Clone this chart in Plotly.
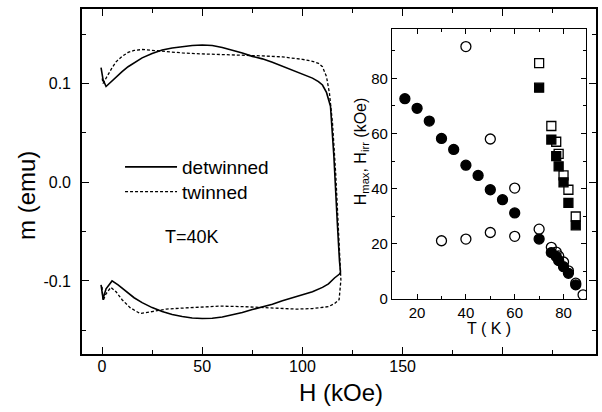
import plotly.graph_objects as go

# ---------------- main panel data (H in kOe, m in emu) ----------------
det_low_H = [-0.5, 0.5, 2, 5, 8, 12, 16, 20, 25, 30, 35, 40, 45, 50, 55, 60, 65, 70,
             75, 80, 85, 90, 95, 100, 105, 110, 113, 116, 118.5, 119]
det_low_m = [-0.104, -0.118, -0.108, -0.100, -0.104, -0.111, -0.117, -0.122, -0.127,
             -0.131, -0.134, -0.136, -0.1375, -0.138, -0.1378, -0.1365, -0.1345, -0.132,
             -0.129, -0.1265, -0.1235, -0.120, -0.117, -0.114, -0.111, -0.1065, -0.103,
             -0.097, -0.093, -0.091]
det_up_H = [-0.5, 0.5, 2, 4, 6, 8, 10, 13, 16, 20, 25, 30, 35, 40, 45, 50, 55, 60, 65,
            70, 75, 80, 85, 90, 95, 100, 105, 108, 110, 112, 114, 115.7, 117.4, 118.5]
det_up_m = [0.116, 0.104, 0.097, 0.100, 0.104, 0.108, 0.112, 0.117, 0.121, 0.126,
            0.1305, 0.134, 0.136, 0.1375, 0.1385, 0.139, 0.1385, 0.1365, 0.134, 0.131,
            0.1275, 0.125, 0.1215, 0.118, 0.1135, 0.1095, 0.1055, 0.102, 0.0985, 0.091,
            0.077, 0.026, -0.041, -0.080]

tw_low_H = [0, 0.5, 2, 4.4, 7, 10, 14, 19, 25, 32, 40, 49, 59, 70, 82, 90, 97, 105,
            110, 113, 116, 118.3]
tw_low_m = [-0.106, -0.120, -0.113, -0.1065, -0.111, -0.119, -0.127, -0.133, -0.131,
            -0.1285, -0.1275, -0.1265, -0.1255, -0.126, -0.127, -0.1275, -0.1285, -0.128,
            -0.127, -0.126, -0.123, -0.119]
tw_up_H = [0, 0.5, 1.5, 3, 5, 7, 10, 13, 16, 20, 25, 30, 40, 50, 60, 70, 80, 90, 100,
           105, 108, 110, 112, 113.5, 115, 116.6, 118.3, 119.2]
tw_up_m = [0.106, 0.100, 0.103, 0.109, 0.116, 0.122, 0.1275, 0.1315, 0.1335, 0.1345,
           0.134, 0.1325, 0.131, 0.130, 0.129, 0.1285, 0.128, 0.127, 0.1245, 0.1225,
           0.1205, 0.117, 0.107, 0.090, 0.060, 0.009, -0.0585, -0.099]

# ---------------- inset data (T in K, H in kOe) ----------------
fc_T = [15, 20, 25, 30, 35, 40, 45, 50, 55, 60, 70, 75, 77, 78, 80, 82, 85]
fc_H = [72.6, 69.1, 64.5, 58.2, 54.2, 48.5, 44.8, 39.6, 36.0, 31.2, 21.7, 16.8, 15.4,
        13.9, 11.7, 9.3, 5.1]
oc_T = [40, 50, 60, 70, 30, 40, 50, 60, 75, 77, 78, 80, 82, 85, 88]
oc_H = [91.5, 58.0, 40.2, 25.3, 21.1, 21.7, 24.1, 22.7, 18.7, 17.0, 15.6, 13.4, 10.2,
        5.7, 1.5]
fs_T = [70, 75, 77, 78, 80, 82, 85]
fs_H = [76.6, 57.8, 51.8, 48.1, 42.3, 34.8, 26.7]
os_T = [70, 75, 77, 78, 80, 82, 85]
os_H = [85.5, 62.7, 57.0, 52.6, 44.8, 39.6, 29.9]

main_xticks = [0, 50, 100, 150, 200]
main_xlabels = ["0", "50", "100", "150", " "]
main_yticks = [-0.1, 0.0, 0.1]
main_ylabels = ["-0.1", "0.0", "0.1"]
inset_xticks = [20, 40, 60, 80]
inset_yticks = [0, 20, 40, 60, 80]

FONT = "Liberation Sans, Arial, sans-serif"

fig = go.Figure()

det_H = det_low_H + det_up_H[::-1]
det_m = det_low_m + det_up_m[::-1]
tw_H = tw_low_H + tw_up_H[::-1]
tw_m = tw_low_m + tw_up_m[::-1]

fig.add_trace(go.Scatter(x=det_H, y=det_m, mode="lines", name="detwinned",
                         legend="legend",
                         line=dict(color="black", width=1.6)))
fig.add_trace(go.Scatter(x=tw_H, y=tw_m, mode="lines", name="twinned",
                         legend="legend2",
                         line=dict(color="black", width=1.3, dash="3px,2px")))

mk = dict(size=10, color="black", line=dict(color="black", width=1.3))
fig.add_trace(go.Scatter(x=fc_T, y=fc_H, mode="markers", xaxis="x2", yaxis="y2",
                         showlegend=False, marker=dict(symbol="circle", **mk)))
fig.add_trace(go.Scatter(x=oc_T, y=oc_H, mode="markers", xaxis="x2", yaxis="y2",
                         showlegend=False, marker=dict(symbol="circle-open", **mk)))
mks = dict(size=9, color="black", line=dict(color="black", width=1.3))
fig.add_trace(go.Scatter(x=fs_T, y=fs_H, mode="markers", xaxis="x2", yaxis="y2",
                         showlegend=False, marker=dict(symbol="square", **mks)))
fig.add_trace(go.Scatter(x=os_T, y=os_H, mode="markers", xaxis="x2", yaxis="y2",
                         showlegend=False, marker=dict(symbol="square-open", **mks)))

axis_common = dict(showline=True, linecolor="black", mirror="ticks", ticks="inside",
                   tickcolor="black", showgrid=False, zeroline=False, automargin=False)

legend_common = dict(xanchor="left", yanchor="middle", bgcolor="rgba(0,0,0,0)",
                     font=dict(size=19), itemwidth=52)

fig.update_layout(
    width=602, height=412,
    margin=dict(l=82, r=6, t=9, b=58),
    paper_bgcolor="white", plot_bgcolor="white",
    font=dict(family=FONT, color="black", size=16),
    xaxis=dict(range=[-10, 246.5], tickmode="array", tickvals=main_xticks,
               ticktext=main_xlabels, ticklen=7, tickwidth=1.3, linewidth=1.6,
               tickfont=dict(size=16), ticklabelstandoff=-3,
               minor=dict(tickvals=[25, 75, 125, 175, 225], ticklen=4, ticks="inside",
                          tickcolor="black"),
               **axis_common),
    yaxis=dict(range=[-0.174, 0.1755], tickmode="array", tickvals=main_yticks,
               ticktext=main_ylabels, ticklen=7, tickwidth=1.3, linewidth=1.6,
               tickfont=dict(size=16), ticklabelstandoff=6,
               minor=dict(tickvals=[-0.15, -0.05, 0.05, 0.15], ticklen=4,
                          ticks="inside", tickcolor="black"),
               **axis_common),
    xaxis2=dict(domain=[0.603, 0.981], anchor="y2", range=[9.7, 89.3],
                tickmode="array", tickvals=inset_xticks, ticklen=5, tickwidth=1.1,
                linewidth=1.2, tickfont=dict(size=15),
                minor=dict(tickvals=[10, 30, 50, 70], ticklen=3, ticks="inside",
                           tickcolor="black"),
                **axis_common),
    yaxis2=dict(domain=[0.1596, 0.943], anchor="x2", range=[0, 98],
                tickmode="array", tickvals=inset_yticks, ticklen=5, tickwidth=1.1,
                linewidth=1.2, tickfont=dict(size=15),
                minor=dict(tickvals=[10, 30, 50, 70, 90], ticklen=3, ticks="inside",
                           tickcolor="black"),
                **axis_common),
    showlegend=True,
    legend=dict(x=0.074, y=0.542, **legend_common),
    legend2=dict(x=0.074, y=0.470, **legend_common),
    annotations=[
        dict(text="H (kOe)", xref="paper", yref="paper", x=0.504, y=-0.113,
             showarrow=False, font=dict(size=24), xanchor="center", yanchor="middle"),
        dict(text="m (emu)", xref="paper", yref="paper", x=-0.107, y=0.458,
             textangle=-90, showarrow=False, font=dict(size=24),
             xanchor="center", yanchor="middle"),
        dict(text="H<sub>max</sub>, H<sub>irr</sub> (kOe)", xref="paper", yref="paper",
             x=0.543, y=0.588, textangle=-90, showarrow=False, font=dict(size=16),
             xanchor="center", yanchor="middle"),
        dict(text="T ( K )", xref="paper", yref="paper", x=0.792, y=0.075,
             showarrow=False, font=dict(size=16), xanchor="center", yanchor="middle"),
        dict(text="T=40K", xref="x", yref="y", x=45, y=-0.0555, showarrow=False,
             font=dict(size=18), xanchor="center", yanchor="middle"),
    ],
)

fig.write_html("out.html", config={"displayModeBar": False},
               post_script="document.body.style.margin='0px';"
                           "document.body.style.padding='0px';")
